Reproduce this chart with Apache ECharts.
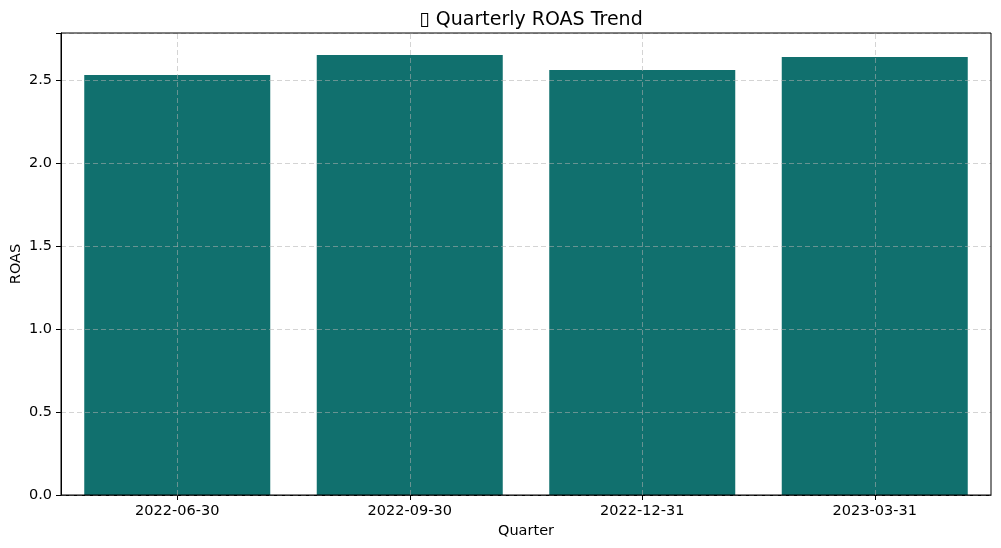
<!DOCTYPE html>
<html>
<head>
<meta charset="utf-8">
<script src="https://cdn.jsdelivr.net/npm/echarts@6/dist/echarts.min.js"></script>
<style>html,body{margin:0;padding:0;background:#fff}#c{width:1001px;height:548px}</style>
</head>
<body>
<div id="c"></div>
<script>
const titleText = '\u25AF Quarterly ROAS Trend';
const quarters = ['2022-06-30', '2022-09-30', '2022-12-31', '2023-03-31'];
const roas = [2.53, 2.651, 2.56, 2.639];
const yTicks = [0.0, 0.5, 1.0, 1.5, 2.0, 2.5];
const yMax = 2.783;

const font = 'DejaVu Sans';
const gridColor = 'rgba(176,176,176,0.55)';
const chart = echarts.init(document.getElementById('c'), null, {renderer: 'canvas'});
chart.setOption({
  animation: false,
  backgroundColor: '#ffffff',
  title: {
    text: titleText, left: 526, top: 6, textAlign: 'center',
    textStyle: {fontFamily: font, fontSize: 19, fontWeight: 'normal', color: '#000'}
  },
  grid: {left: 61, right: 10, top: 33, bottom: 53, outerBoundsMode: 'none', containLabel: false,
    show: true, borderColor: '#000', borderWidth: 1, backgroundColor: 'transparent', z: 4},
  xAxis: {
    type: 'category', data: quarters,
    name: 'Quarter', nameLocation: 'middle', nameGap: 29, nameMoveOverlap: false,
    nameTextStyle: {fontFamily: font, fontSize: 14.5, color: '#000'},
    axisLine: {show: true, lineStyle: {color: '#000', width: 1}},
    axisTick: {show: true, alignWithLabel: true, length: 5, lineStyle: {color: '#000'}},
    axisLabel: {fontFamily: font, fontSize: 14.5, color: '#000', margin: 9},
    splitLine: {show: false}
  },
  yAxis: {
    type: 'value', min: 0, max: yMax, interval: 0.5,
    name: 'ROAS', nameLocation: 'middle', nameGap: 37, nameMoveOverlap: false,
    nameTextStyle: {fontFamily: font, fontSize: 14.5, color: '#000'},
    axisLine: {show: true, lineStyle: {color: '#000', width: 1}},
    axisTick: {show: true, length: 5, lineStyle: {color: '#000'}},
    axisLabel: {fontFamily: font, fontSize: 14.5, color: '#000', margin: 9,
      formatter: v => yTicks.includes(v) ? v.toFixed(1) : ''},
    splitLine: {show: true, lineStyle: {color: gridColor, type: [5, 3], width: 1}},
    z: 3
  },
  series: [{
    type: 'bar', data: roas, barWidth: '80%',
    itemStyle: {color: '#11706e'},
    z: 2,
    markLine: {
      silent: true, symbol: 'none', label: {show: false},
      lineStyle: {color: gridColor, type: [5, 3], width: 1},
      data: quarters.map(q => ({xAxis: q}))
    }
  }]
});
</script>
</body>
</html>
